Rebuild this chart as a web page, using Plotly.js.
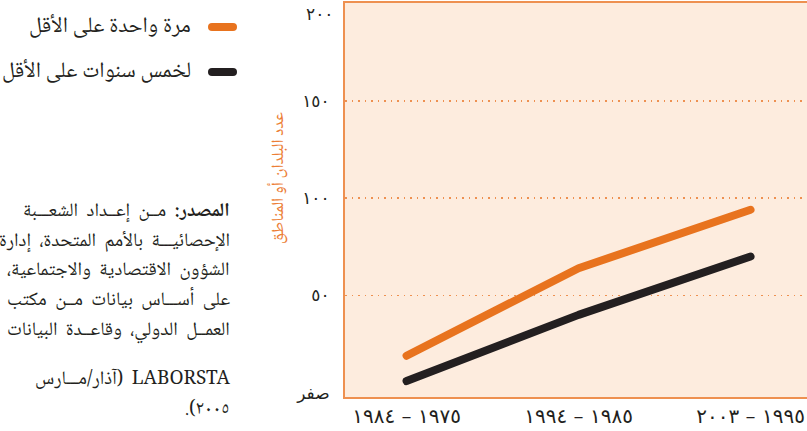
<!DOCTYPE html>
<html>
<head>
<meta charset="utf-8">
<script src="https://cdn.plot.ly/plotly-3.0.1.min.js"></script>
<style>
  html, body { margin: 0; padding: 0; overflow: hidden; background: #ffffff; }
  #chart { width: 815px; height: 431px; }
  .scatterlayer .js-line { stroke-linecap: round !important; stroke-linejoin: round !important; }
  .shapelayer path { stroke-linecap: round !important; }
</style>
</head>
<body>
<div id="chart"></div>
<script>
// ---- data ----
const categories = ["١٩٧٥ – ١٩٨٤", "١٩٨٥ – ١٩٩٤", "١٩٩٥ – ٢٠٠٣"];
const seriesNames = ["مرة واحدة على الأقل", "لخمس سنوات على الأقل"];
const onceValues = [19, 64, 94];
const fiveYearValues = [6, 40, 70];
const yTickVals = [0, 50, 100, 150, 200];
const yTickText = ["صفر", "٥٠", "١٠٠", "١٥٠", "٢٠٠"];
const yTitle = "عدد البلدان أو المناطق";
const sourceLines = [
  "<b>المصدر:</b>\u00A0 مــن\u00A0 إعــداد\u00A0 الشعـــبة",
  "الإحصائيـــة\u00A0 بالأمم\u00A0 المتحدة،\u00A0 إدارة",
  "الشؤون\u00A0 الاقتصادية\u00A0 والاجتماعية،",
  "على\u00A0 أســـاس\u00A0 بيانات\u00A0 مــن\u00A0 مكتب",
  "العمــل\u00A0 الدولي،\u00A0 وقاعــدة\u00A0 البيانات",
  "LABORSTA\u00A0 (آذار/مـــارس",
  "٢٠٠٥)."
];

// ---- layout helpers ----
const W = 815, H = 431;
const M = { l: 345, r: 2, t: 3, b: 34 };
const PW = W - M.l - M.r, PH = H - M.t - M.b;
const px2x = p => (p - M.l) / PW;
const px2y = p => (H - M.b - p) / PH;
const rtl = s => "\u202B\u200F" + s + "\u200F\u202C";

const ORANGE = "#E8731E";
const TITLE_ORANGE = "#EC7E36";
const BLACK = "#231F20";
const BORDER = "#EE9050";
const BG = "#FDECDE";
const arabicFont = "'Noto Naskh Arabic', 'Noto Sans Arabic', 'DejaVu Sans', sans-serif";
const digitFont = "'DejaVu Sans', sans-serif";
const Y_RANGE = [-2.2, 200.3];
const topIdx = yTickVals.length - 1;
const Y_LABEL_GAP = 10;

const traces = [
  { x: categories, y: onceValues, name: seriesNames[0], type: "scatter", mode: "lines",
    line: { color: ORANGE, width: 8 }, hoverinfo: "skip" },
  { x: categories, y: fiveYearValues, name: seriesNames[1], type: "scatter", mode: "lines",
    line: { color: BLACK, width: 8 }, hoverinfo: "skip" }
];

const yTickFont = { family: digitFont, size: 17, color: BLACK };

const annotations = [];
// top y tick label, placed on the y scale, nudged down to stay inside the page
annotations.push({ xref: "paper", yref: "y", x: 0, y: yTickVals[topIdx],
  xanchor: "right", yanchor: "middle", xshift: -Y_LABEL_GAP, yshift: -10,
  text: yTickText[topIdx], showarrow: false, font: yTickFont });
// axis title
annotations.push({ xref: "paper", yref: "paper", x: px2x(279), y: px2y(178),
  text: rtl(yTitle), showarrow: false, textangle: -90,
  font: { family: arabicFont, size: 17, color: TITLE_ORANGE }, xanchor: "center", yanchor: "middle" });
// legend texts and swatches
const legendY = [27, 72];
const legendColors = [ORANGE, BLACK];
const shapes = [];
seriesNames.forEach((n, i) => {
  annotations.push({ xref: "paper", yref: "paper", x: px2x(193), y: px2y(legendY[i]),
    text: rtl(n), showarrow: false, xanchor: "right", yanchor: "middle",
    font: { family: arabicFont, size: 22, color: BLACK } });
  shapes.push({ type: "line", xref: "paper", yref: "paper",
    x0: px2x(212), x1: px2x(233), y0: px2y(legendY[i]), y1: px2y(legendY[i]),
    line: { color: legendColors[i], width: 8 } });
});
// source lines
const sourceY = [212, 242, 271, 301, 331, 380, 410];
sourceLines.forEach((s, i) => {
  annotations.push({ xref: "paper", yref: "paper", x: px2x(232), y: px2y(sourceY[i]),
    text: rtl(s), showarrow: false, xanchor: "right", yanchor: "middle", align: "right",
    font: { family: arabicFont + ", 'Liberation Serif'", size: 19, color: BLACK } });
});

const layout = {
  width: W, height: H,
  margin: M,
  paper_bgcolor: "#ffffff",
  plot_bgcolor: BG,
  showlegend: false,
  xaxis: {
    type: "category", range: [-0.358, 2.363],
    showgrid: false, zeroline: false,
    showline: true, mirror: true, linecolor: BORDER, linewidth: 2,
    ticks: "", tickfont: { family: digitFont, size: 20, color: BLACK },
    fixedrange: true
  },
  yaxis: {
    range: Y_RANGE,
    tickvals: yTickVals.slice(0, topIdx),
    ticktext: yTickText.slice(0, topIdx),
    showgrid: true, gridcolor: BORDER, gridwidth: 1.5, griddash: "1.5px,5px",
    zeroline: true, zerolinecolor: BG, zerolinewidth: 1,
    showline: true, mirror: true, linecolor: BORDER, linewidth: 2,
    ticks: "", ticklabelstandoff: Y_LABEL_GAP,
    tickfont: yTickFont,
    fixedrange: true
  },
  annotations: annotations,
  shapes: shapes
};

Plotly.newPlot("chart", traces, layout, { displayModeBar: false, staticPlot: true });
</script>
</body>
</html>
